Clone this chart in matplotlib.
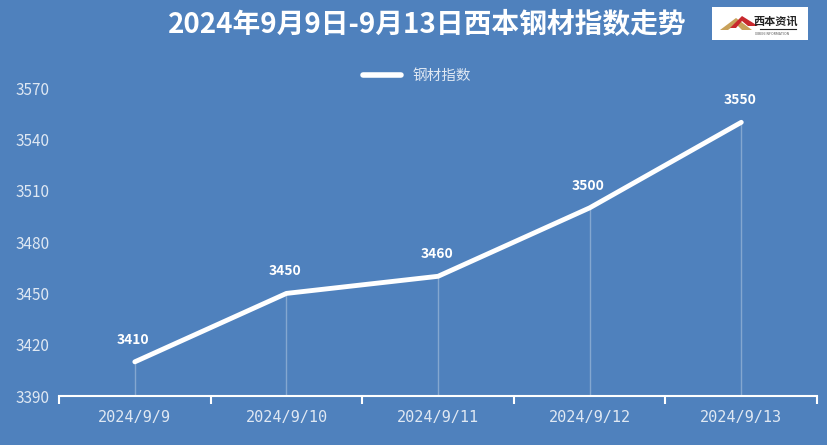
import matplotlib.pyplot as plt
from matplotlib.patches import Rectangle, Polygon

plt.rcParams['font.family'] = ['Noto Sans CJK SC', 'DejaVu Sans']

dates = ['2024/9/9', '2024/9/10', '2024/9/11', '2024/9/12', '2024/9/13']
index_values = [3410, 3450, 3460, 3500, 3550]
y_ticks = [3390, 3420, 3450, 3480, 3510, 3540, 3570]

BG = '#4f81bd'
TXT = '#dfe8f3'


def main():
    fig = plt.figure(figsize=(8.28, 4.45), dpi=100, facecolor=BG)
    ax = fig.add_axes([0.0713, 0.110, 0.9155, 0.692])
    ax.set_facecolor(BG)

    x = list(range(len(dates)))

    # drop lines
    for xi, v in zip(x, index_values):
        ax.plot([xi, xi], [3390, v], color='white', alpha=0.3, lw=1, zorder=1)

    ax.plot(x, index_values, color='white', lw=3.5, solid_capstyle='round',
            label='钢材指数', zorder=3)

    for xi, v in zip(x, index_values):
        ax.annotate(str(v), (xi, v), xytext=(-1, 11), textcoords='offset points',
                    ha='center', va='bottom', color='white', fontsize=10,
                    fontweight='bold')

    ax.set_xlim(-0.5, 4.5)
    ax.set_ylim(3390, 3570)
    ax.set_yticks(y_ticks)
    ax.set_xticks(x)
    ax.set_xticklabels(dates, family='DejaVu Sans Mono')
    ax.set_xticks([i - 0.5 for i in range(len(dates) + 1)], minor=True)

    for s in ['top', 'right', 'left']:
        ax.spines[s].set_visible(False)
    ax.spines['bottom'].set_color('white')
    ax.spines['bottom'].set_linewidth(1.5)

    ax.tick_params(axis='y', length=0, labelsize=11, labelcolor=TXT, pad=7)
    ax.tick_params(axis='x', which='major', length=0, labelsize=11,
                   labelcolor=TXT, pad=10)
    ax.tick_params(axis='x', which='minor', length=6, width=1.5, color='white',
                   direction='out')

    leg = ax.legend(loc='center', bbox_to_anchor=(0.472, 1.04), frameon=False,
                    fontsize=10.5, handlelength=2.6, labelcolor=TXT)
    leg.get_lines()[0].set_linewidth(4)

    fig.text(0.516, 0.943, '2024年9月9日-9月13日西本钢材指数走势', ha='center',
             va='center', color='white', fontsize=20, fontweight='bold')

    # logo box
    lx = fig.add_axes([712 / 828, 1 - 40 / 445, 96 / 828, 33 / 445])
    lx.set_xlim(0, 96)
    lx.set_ylim(0, 33)
    lx.axis('off')
    lx.add_patch(Rectangle((0, 0), 96, 33, facecolor='white', edgecolor='none'))
    lx.add_patch(Polygon([[8, 10], [24, 22], [40, 10], [30, 10], [24, 16], [16, 10]],
                         facecolor='#c8a15a', edgecolor='none'))
    lx.add_patch(Polygon([[18, 12], [30, 24], [46, 14], [36, 14], [30, 19], [24, 12]],
                         facecolor='#c8282d', edgecolor='none'))
    lx.text(64, 19, '西本资讯', ha='center', va='center', fontsize=8,
            fontweight='bold', color='#222222')
    lx.plot([48, 84], [11, 11], color='#222222', lw=0.8)
    lx.text(60, 6, 'XIBEN INFORMATION', ha='center', va='center', fontsize=2.5,
            color='#555555')

    fig.savefig('out.png', dpi=100, facecolor=BG)


if __name__ == "__main__":
    main()
